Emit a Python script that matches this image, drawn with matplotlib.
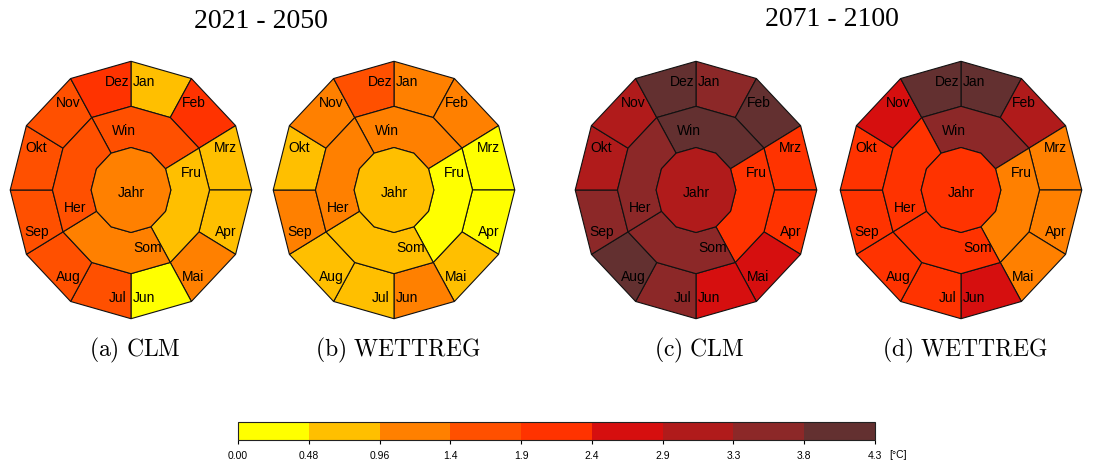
import numpy as np
import matplotlib
matplotlib.use('Agg')
import matplotlib.pyplot as plt
from matplotlib.patches import Polygon
from matplotlib.colors import ListedColormap, BoundaryNorm
from matplotlib.cm import ScalarMappable

plt.rcParams['mathtext.fontset'] = 'cm'

# --- data: temperature change [°C] ---
months = ['Jan', 'Feb', 'Mrz', 'Apr', 'Mai', 'Jun', 'Jul', 'Aug', 'Sep', 'Okt', 'Nov', 'Dez']
seasons = ['Win', 'Fru', 'Som', 'Her']
periods = ['2021 - 2050', '2071 - 2100']
captions = ['(a) CLM', '(b) WETTREG', '(c) CLM', '(d) WETTREG']

clm_2021_months = [0.75, 2.2, 0.8, 0.9, 1.2, 0.3, 1.7, 1.6, 1.6, 1.5, 1.7, 2.1]
clm_2021_seasons = [1.7, 0.85, 1.2, 1.6]
clm_2021_year = 1.3

wet_2021_months = [1.1, 1.2, 0.3, 0.4, 0.7, 1.05, 0.8, 0.7, 1.1, 0.9, 1.2, 1.5]
wet_2021_seasons = [1.3, 0.45, 0.85, 1.05]
wet_2021_year = 0.9

clm_2071_months = [3.6, 3.9, 2.1, 2.2, 2.6, 2.7, 3.5, 3.9, 3.6, 3.1, 3.2, 4.0]
clm_2071_seasons = [3.9, 2.3, 3.5, 3.4]
clm_2071_year = 3.2

wet_2071_months = [3.9, 3.0, 1.2, 1.1, 1.3, 2.5, 2.2, 2.1, 2.0, 2.2, 2.6, 4.0]
wet_2071_seasons = [3.5, 1.2, 2.3, 2.2]
wet_2071_year = 2.1

levels = [0.0, 0.478, 0.956, 1.433, 1.911, 2.389, 2.867, 3.344, 3.822, 4.3]
level_labels = ['0.00', '0.48', '0.96', '1.4', '1.9', '2.4', '2.9', '3.3', '3.8', '4.3']
colors = ['#ffff00', '#ffbf00', '#ff8000', '#ff5000', '#ff3300',
          '#d60f0f', '#b01b1b', '#8c2828', '#633030']

cmap = ListedColormap(colors)
norm = BoundaryNorm(levels, cmap.N)

panels = [
   (clm_2021_months, clm_2021_seasons, clm_2021_year),
   (wet_2021_months, wet_2021_seasons, wet_2021_year),
   (clm_2071_months, clm_2071_seasons, clm_2071_year),
   (wet_2071_months, wet_2071_seasons, wet_2071_year),
]

# panel centres / radii in pixels
W, H = 1113, 466
centres_x = [131, 394, 696, 961]
rx, ry, cy = 122, 130, 190

R_OUT, R_MID, R_IN = 1.0, 0.65, 0.33


def ring_pts(r, a_start, a_end):
   # angles in degrees, going clockwise from a_start to a_end in 30 deg steps
   angs = np.arange(a_start, a_end - 1, -30)
   return [(r * np.cos(np.radians(a)), r * np.sin(np.radians(a))) for a in angs]


def sector(r1, r2, a_start, a_end):
   outer = ring_pts(r2, a_start, a_end)
   inner = ring_pts(r1, a_start, a_end)[::-1]
   return outer + inner


fig = plt.figure(figsize=(W / 100, H / 100), dpi=100)

lab_font = dict(family='Liberation Sans', fontsize=10, ha='center', va='center')
edge = dict(edgecolor='#111111', linewidth=0.8)

season_pos = [(-0.06, 0.46), (0.5, 0.13), (0.14, -0.45), (-0.46, -0.14)]

for i, (mvals, svals, yval) in enumerate(panels):
   cx = centres_x[i]
   ax = fig.add_axes([(cx - rx) / W, (H - cy - ry) / H, 2 * rx / W, 2 * ry / H])
   ax.set_xlim(-1.01, 1.01)
   ax.set_ylim(-1.01, 1.01)
   ax.axis('off')

   # months
   for k, name in enumerate(months):
      a0 = 90 - 30 * k
      ax.add_patch(Polygon(sector(R_MID, R_OUT, a0, a0 - 30), closed=True,
                           facecolor=cmap(norm(mvals[k])), **edge))
      mid = a0 - 15
      la = mid + 7.5 * np.sign(np.sin(np.radians(2 * mid)))
      ax.text(0.85 * np.cos(np.radians(la)), 0.85 * np.sin(np.radians(la)), name, **lab_font)

   # seasons: Win = Dez..Feb, Fru = Mrz..Mai, Som = Jun..Aug, Her = Sep..Nov
   for k, name in enumerate(seasons):
      a0 = 120 - 90 * k
      ax.add_patch(Polygon(sector(R_IN, R_MID, a0, a0 - 90), closed=True,
                           facecolor=cmap(norm(svals[k])), **edge))
      ax.text(season_pos[k][0], season_pos[k][1], name, **lab_font)

   # year
   ax.add_patch(Polygon(ring_pts(R_IN, 90, -240), closed=True,
                        facecolor=cmap(norm(yval)), **edge))
   ax.text(0, -0.02, 'Jahr', **lab_font)

   fig.text(cx / W + 0.003, 1 - 350 / H, r'$\mathrm{' + captions[i].replace(' ', r'\ ') + '}$',
            fontsize=17, ha='center', va='center')

fig.text(261 / W, 1 - 22 / H, periods[0], family='Liberation Serif', fontsize=20,
         ha='center', va='center')
fig.text(832 / W, 1 - 20 / H, periods[1], family='Liberation Serif', fontsize=20,
         ha='center', va='center')

# colorbar
cax = fig.add_axes([238 / W, (H - 440) / H, 637 / W, 18 / H])
sm = ScalarMappable(norm=norm, cmap=cmap)
cb = fig.colorbar(sm, cax=cax, orientation='horizontal', ticks=levels, spacing='uniform')
cb.outline.set_linewidth(0.8)
cb.outline.set_edgecolor('#222222')
cax.set_xticklabels(level_labels, family='Liberation Sans', fontsize=7.5)
cax.tick_params(axis='x', length=3, width=0.8, pad=5)
fig.text(898 / W, 1 - 455 / H, '[°C]', family='Liberation Sans', fontsize=7.5,
         ha='center', va='center')

fig.savefig('out.png', dpi=100)
